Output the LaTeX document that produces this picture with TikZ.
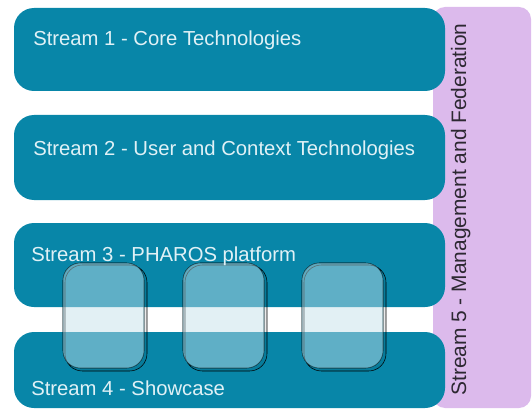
\documentclass[tikz,border=0pt]{standalone}
\usepackage{fontspec}
\setmainfont{Liberation Sans}

\definecolor{streamteal}{RGB}{8,134,168}
\definecolor{streamtext}{RGB}{224,241,246}
\definecolor{mgmtlilac}{RGB}{220,186,236}
\definecolor{tilefill}{RGB}{193,223,232}

\tikzset{
  streambox/.style={draw opacity=0, fill=streamteal, rounded corners=15},
  tilebox/.style={draw={rgb, 255:red, 4; green, 96; blue, 122}, draw opacity=0.35, line width=0.5, fill=tilefill, fill opacity=0.47, rounded corners=13},
  tileshadow/.style={fill=black, fill opacity=0.08, even odd rule, rounded corners=13},
  streamlabel/.style={anchor=base west, inner sep=0.75pt, text=streamtext, font=\fontsize{15.2}{18}\selectfont},
}

\begin{document}
\begin{tikzpicture}[x=0.75pt,y=0.75pt,yscale=-1,xscale=1]
\useasboundingbox (0,0) rectangle (532,410);

%Shape: Rectangle (stream 5, behind)
\draw [draw opacity=0][fill=mgmtlilac ,fill opacity=1 ][rounded corners=9] (433,7) rectangle (531,408) ;

%Shape: Rounded Rect (streams 1-4)
\draw [streambox] (14,8) rectangle (445,91) ;
\draw [streambox] (14,115) rectangle (445,200) ;
\draw [streambox] (14,223) rectangle (445,307) ;
\draw [streambox] (14,332) rectangle (445,408) ;

%Shape: Rounded Rect (tiles across streams 3 and 4)
\foreach \tx in {63,183,302} {
  \draw [tileshadow] (\tx+2,265) rectangle (\tx+84,371) (\tx,263) rectangle (\tx+81,368) ;
  \draw [tilebox] (\tx,263) rectangle (\tx+81,368) ;
}

% Text Node
\draw (32,46) node [streamlabel] (s1) {Stream 1 - Core Technologies};
% Text Node
\draw (32,156) node [streamlabel] (s2) {Stream 2 - User and Context Technologies};
% Text Node
\draw (30,261) node [streamlabel] (s3) {Stream 3 - PHAROS platform};
% Text Node
\draw (30,395) node [streamlabel] (s4) {Stream 4 - Showcase};
% Text Node
\draw (466,397) node [streamlabel, rotate=90, font=\fontsize{15.7}{18}\selectfont, text={rgb, 255:red, 45; green, 40; blue, 50}] (s5) {Stream 5 - Management and Federation};

\end{tikzpicture}
\end{document}
